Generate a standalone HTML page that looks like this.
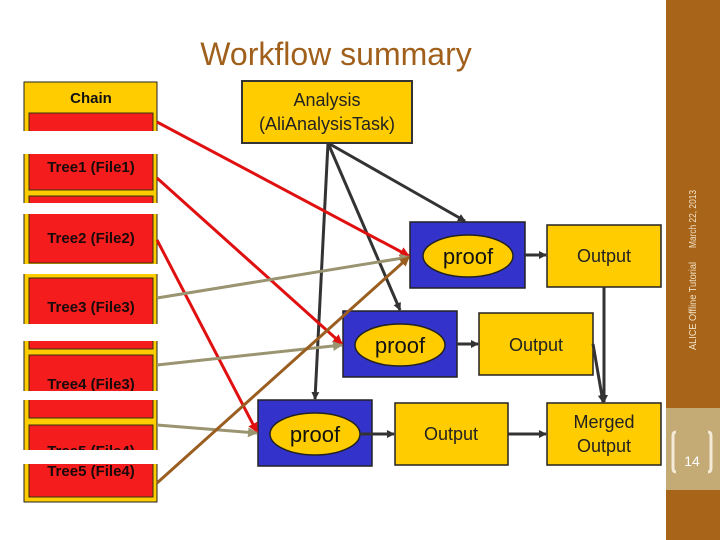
<!DOCTYPE html>
<html><head><meta charset="utf-8"><style>
body{margin:0;background:#fff}
svg{display:block}
text{font-family:"Liberation Sans",Arial,sans-serif}
</style></head><body>
<svg width="720" height="540" viewBox="0 0 720 540" xmlns="http://www.w3.org/2000/svg">
<defs>
<marker id="ad" markerWidth="8" markerHeight="8" refX="7" refY="4" orient="auto" markerUnits="userSpaceOnUse"><path d="M0,0 L8,4 L0,8z" fill="#333"/></marker>
<marker id="ar" markerWidth="10" markerHeight="10" refX="9" refY="5" orient="auto" markerUnits="userSpaceOnUse"><path d="M0,0 L10,5 L0,10z" fill="#e01010"/></marker>
<marker id="ag" markerWidth="10" markerHeight="10" refX="9" refY="5" orient="auto" markerUnits="userSpaceOnUse"><path d="M0,0 L10,5 L0,10z" fill="#9a9470"/></marker>
<marker id="ab" markerWidth="10" markerHeight="10" refX="9" refY="5" orient="auto" markerUnits="userSpaceOnUse"><path d="M0,0 L10,5 L0,10z" fill="#9a5e20"/></marker>
</defs>
<!-- sidebar -->
<rect x="666" y="0" width="54" height="540" fill="#a86418"/>
<rect x="666" y="408" width="54" height="82" fill="#c4aa74"/>
<text transform="translate(696,350) rotate(-90)" font-size="10" fill="#f3e3c8" textLength="88" lengthAdjust="spacingAndGlyphs">ALICE Offline Tutorial</text>
<text transform="translate(696,248) rotate(-90)" font-size="10" fill="#f3e3c8" textLength="58" lengthAdjust="spacingAndGlyphs">March 22, 2013</text>
<path d="M676,432 q-3,0 -3,4 v32 q0,4 3,4" stroke="#f3ead8" stroke-width="3" fill="none"/>
<path d="M708,432 q3,0 3,4 v32 q0,4 -3,4" stroke="#f3ead8" stroke-width="3" fill="none"/>
<text x="692" y="466" font-size="14" fill="#fff" text-anchor="middle">14</text>
<!-- title -->
<text x="336" y="65" font-size="32" fill="#a0601c" text-anchor="middle">Workflow summary</text>
<!-- chain column -->
<rect x="24" y="82" width="133" height="420" fill="#ffcc00" stroke="#222" stroke-width="1"/>
<text x="91" y="103" font-size="15" font-weight="bold" text-anchor="middle" fill="#111">Chain</text>
<g fill="#f41c1c" stroke="#331" stroke-width="1">
<rect x="29" y="113" width="124" height="77"/>
<rect x="29" y="196" width="124" height="67"/>
<rect x="29" y="278" width="124" height="71"/>
<rect x="29" y="355" width="124" height="63"/>
<rect x="29" y="425" width="124" height="72"/>
</g>
<g font-size="15" font-weight="bold" fill="#1a0a0a" text-anchor="middle">
<text x="91" y="172">Tree1 (File1)</text>
<text x="91" y="243">Tree2 (File2)</text>
<text x="91" y="312">Tree3 (File3)</text>
<text x="91" y="389">Tree4 (File3)</text>
<text x="91" y="456">Tree5 (File4)</text>
<text x="91" y="476">Tree5 (File4)</text>
</g>
<g fill="#fff">
<rect x="20" y="131" width="142" height="23"/>
<rect x="20" y="203" width="142" height="11"/>
<rect x="20" y="264" width="142" height="10"/>
<rect x="20" y="324" width="142" height="17"/>
<rect x="20" y="391" width="142" height="9"/>
<rect x="20" y="450" width="142" height="14"/>
</g>
<!-- analysis -->
<rect x="242" y="81" width="170" height="62" fill="#ffcc00" stroke="#333" stroke-width="2"/>
<text x="327" y="106" font-size="18" text-anchor="middle" fill="#222">Analysis</text>
<text x="327" y="130" font-size="18" text-anchor="middle" fill="#222">(AliAnalysisTask)</text>
<!-- boxes -->
<g stroke="#222" stroke-width="1.5">
<rect x="410" y="222" width="115" height="66" fill="#3333cc"/>
<rect x="343" y="311" width="114" height="66" fill="#3333cc"/>
<rect x="258" y="400" width="114" height="66" fill="#3333cc"/>
<rect x="547" y="225" width="114" height="62" fill="#ffcc00"/>
<rect x="479" y="313" width="114" height="62" fill="#ffcc00"/>
<rect x="395" y="403" width="113" height="62" fill="#ffcc00"/>
<rect x="547" y="403" width="114" height="62" fill="#ffcc00"/>
<ellipse cx="468" cy="256" rx="45" ry="21" fill="#ffcc00"/>
<ellipse cx="400" cy="345" rx="45" ry="21" fill="#ffcc00"/>
<ellipse cx="315" cy="434" rx="45" ry="21" fill="#ffcc00"/>
</g>
<g font-size="22" text-anchor="middle" fill="#111">
<text x="468" y="264">proof</text>
<text x="400" y="353">proof</text>
<text x="315" y="442">proof</text>
</g>
<g font-size="18" text-anchor="middle" fill="#222">
<text x="604" y="262">Output</text>
<text x="536" y="351">Output</text>
<text x="451" y="440">Output</text>
<text x="604" y="428">Merged</text>
<text x="604" y="452">Output</text>
</g>
<!-- dark arrows -->
<g stroke="#333" stroke-width="3" fill="none" marker-end="url(#ad)">
<line x1="328" y1="143" x2="465" y2="221"/>
<line x1="328" y1="143" x2="400" y2="310"/>
<line x1="328" y1="143" x2="315" y2="399"/>
<line x1="525" y1="255" x2="546" y2="255"/>
<line x1="457" y1="344" x2="478" y2="344"/>
<line x1="360" y1="434" x2="394" y2="434"/>
<line x1="508" y1="434" x2="546" y2="434"/>
<line x1="604" y1="287" x2="604" y2="402"/>
<line x1="593" y1="344" x2="603" y2="402"/>
</g>
<!-- colored connectors -->
<g stroke-width="3" fill="none">
<line x1="157" y1="122" x2="409" y2="256" stroke="#e01010" marker-end="url(#ar)"/>
<line x1="157" y1="178" x2="342" y2="344" stroke="#e01010" marker-end="url(#ar)"/>
<line x1="157" y1="240" x2="257" y2="432" stroke="#e01010" marker-end="url(#ar)"/>
<line x1="157" y1="298" x2="409" y2="257" stroke="#9a9470" marker-end="url(#ag)"/>
<line x1="157" y1="365" x2="342" y2="345" stroke="#9a9470" marker-end="url(#ag)"/>
<line x1="157" y1="425" x2="257" y2="433" stroke="#9a9470" marker-end="url(#ag)"/>
<line x1="157" y1="483" x2="409" y2="257" stroke="#9a5e20" marker-end="url(#ab)"/>
</g>
</svg>
</body></html>
